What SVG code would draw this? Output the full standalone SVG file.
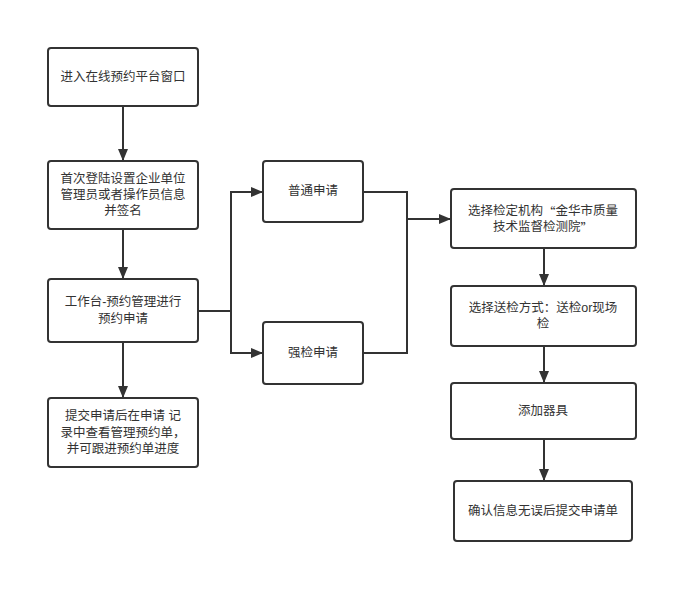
<svg xmlns="http://www.w3.org/2000/svg" width="698" height="603" viewBox="0 0 698 603">
<style>
.box{fill:#fff;stroke:#333;stroke-width:2}
.t{font-family:"Liberation Sans","Noto Sans CJK SC",sans-serif;font-size:12.5px;fill:#333;text-anchor:middle;dominant-baseline:central}
.q{font-family:"Noto Sans CJK SC",sans-serif}
.c{fill:none;stroke:#333;stroke-width:2}
</style>
<defs>
<marker id="a" markerWidth="12" markerHeight="10" refX="11" refY="5" orient="auto" markerUnits="userSpaceOnUse">
<path d="M0,0 L12,5 L0,10 z" fill="#333"/>
</marker>
</defs>
<rect width="698" height="603" fill="#fff"/>
<g id="connectors">
<path class="c" d="M123,107 V160" marker-end="url(#a)"/>
<path class="c" d="M123,229 V278" marker-end="url(#a)"/>
<path class="c" d="M123,342 V397" marker-end="url(#a)"/>
<path class="c" d="M198,311 H231 V192 H262" marker-end="url(#a)"/>
<path class="c" d="M231,311 V353 H262" marker-end="url(#a)"/>
<path class="c" d="M363,192 H407 V353 H363"/>
<path class="c" d="M407,219 H450" marker-end="url(#a)"/>
<path class="c" d="M544,248 V285" marker-end="url(#a)"/>
<path class="c" d="M544,346 V382" marker-end="url(#a)"/>
<path class="c" d="M544,439 V480" marker-end="url(#a)"/>
</g>
<g id="n1"><rect class="box" x="48" y="48" width="150" height="58" rx="3"/><text class="t" x="123" y="77">进入在线预约平台窗口</text></g>
<g id="n2"><rect class="box" x="48" y="161" width="150" height="68" rx="3"/><text class="t"><tspan x="123" y="179">首次登陆设置企业单位</tspan><tspan x="123" y="195">管理员或者操作员信息</tspan><tspan x="123" y="211">并签名</tspan></text></g>
<g id="n3"><rect class="box" x="48" y="279" width="150" height="63" rx="3"/><text class="t"><tspan x="123" y="302">工作台-预约管理进行</tspan><tspan x="123" y="319">预约申请</tspan></text></g>
<g id="n4"><rect class="box" x="48" y="398" width="150" height="69" rx="3"/><text class="t"><tspan x="123" y="416">提交申请后在申请 记</tspan><tspan x="123" y="433">录中查看管理预约单，</tspan><tspan x="123" y="449">并可跟进预约单进度</tspan></text></g>
<g id="n5"><rect class="box" x="263" y="161" width="100" height="61" rx="3"/><text class="t" x="313" y="191">普通申请</text></g>
<g id="n6"><rect class="box" x="263" y="322" width="100" height="62" rx="3"/><text class="t" x="313" y="353">强检申请</text></g>
<g id="n7"><rect class="box" x="451" y="189" width="185" height="59" rx="3"/><text class="t"><tspan x="543" y="211">选择检定机构<tspan class="q">“</tspan>金华市质量</tspan><tspan x="543" y="227">技术监督检测院<tspan class="q">”</tspan></tspan></text></g>
<g id="n8"><rect class="box" x="451" y="286" width="185" height="60" rx="3"/><text class="t"><tspan x="543" y="308">选择送检方式：送检or现场</tspan><tspan x="543" y="324">检</tspan></text></g>
<g id="n9"><rect class="box" x="451" y="383" width="185" height="56" rx="3"/><text class="t" x="543" y="411">添加器具</text></g>
<g id="n10"><rect class="box" x="454" y="481" width="178" height="60" rx="3"/><text class="t" x="543" y="511">确认信息无误后提交申请单</text></g>
</svg>
